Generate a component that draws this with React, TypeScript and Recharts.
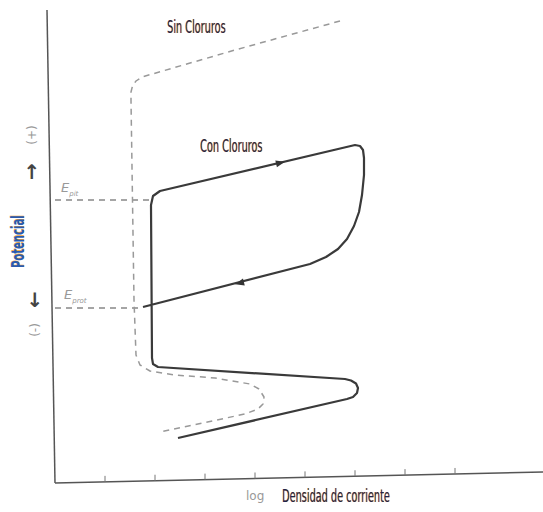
import { LineChart, Line, XAxis, YAxis, ReferenceLine, ReferenceDot } from 'recharts';

// curve "Con Cloruros" (solid), x = log current density, y = potential
const conX = [2.46, 5.84, 5.96, 6.04, 6.06, 6.02, 5.92, 5.8, 2.06, 1.96, 1.94, 1.92, 1.96, 2.1, 6.0, 6.1, 6.16, 6.18, 6.18, 6.14, 6.08, 5.98, 5.84, 5.66, 5.42, 5.1, 1.76];
const conY = [0.9, 1.68, 1.72, 1.8, 1.9, 1.99, 2.05, 2.08, 2.32, 2.38, 2.5, 5.56, 5.74, 5.84, 6.76, 6.74, 6.66, 6.5, 6.16, 5.76, 5.42, 5.14, 4.88, 4.68, 4.52, 4.38, 3.52];

// curve "Sin Cloruros" (dashed)
const sinX = [5.7, 3.6, 1.74, 1.62, 1.55, 1.52, 1.52, 1.58, 1.62, 1.7, 1.9, 2.4, 3.2, 3.9, 4.08, 4.18, 4.16, 4.06, 3.8, 2.1];
const sinY = [9.24, 8.66, 8.12, 8.04, 7.94, 7.82, 7.66, 3.66, 2.56, 2.36, 2.24, 2.16, 2.1, 1.98, 1.88, 1.72, 1.58, 1.48, 1.38, 1.02];

// E_pit and E_prot levels
const ePit = 5.66;
const eProt = 3.5;

const ticks = [1, 2, 3, 4, 5, 6, 7, 8];

// scanned axes are a bit skewed
const xAxisEnd = { x: 9.76, y: 0.22 };
const yAxisTop = { x: -0.16, y: 9.46 };

const con = conX.map((x, i) => ({ x, y: conY[i] }));
const sin = sinX.map((x, i) => ({ x, y: sinY[i] }));

const arrow = (angle: number) => (props: any) => (
  <polygon
    points="5,0 -4,-3.5 -4,3.5"
    fill="#333"
    transform={`translate(${props.cx},${props.cy}) rotate(${angle})`}
  />
);

const label: React.CSSProperties = {
  position: 'absolute',
  fontFamily: '"DejaVu Sans Condensed", sans-serif',
  fontSize: 18,
  color: '#1b2450',
  textShadow: '1px 0 0 #f0a030',
  whiteSpace: 'nowrap',
  lineHeight: 1,
  transform: 'scaleX(0.6)',
  transformOrigin: 'left top',
};

const small: React.CSSProperties = {
  position: 'absolute',
  fontFamily: '"DejaVu Sans", sans-serif',
  color: '#999',
  whiteSpace: 'nowrap',
  lineHeight: 1,
};

export default function App() {
  return (
    <div style={{ position: 'absolute', left: 0, top: 0, width: 543, height: 512, background: '#fff' }}>
      <LineChart width={543} height={512} margin={{ top: 0, right: 0, bottom: 0, left: 0 }}>
        <XAxis dataKey="x" type="number" domain={[-1.1, 9.76]} hide />
        <YAxis dataKey="y" type="number" domain={[-0.58, 9.66]} hide />

        {/* axes */}
        <ReferenceLine segment={[{ x: 0, y: 0 }, yAxisTop]} stroke="#555" strokeWidth={1.5} />
        <ReferenceLine segment={[{ x: 0, y: 0 }, xAxisEnd]} stroke="#555" strokeWidth={1.5} />
        {ticks.map((t) => {
          const base = (xAxisEnd.y * t) / xAxisEnd.x;
          return (
            <ReferenceLine
              key={t}
              segment={[{ x: t, y: base }, { x: t, y: base + 0.12 }]}
              stroke="#777"
              strokeWidth={1}
            />
          );
        })}

        <ReferenceLine segment={[{ x: 0, y: ePit }, { x: 1.9, y: ePit }]} stroke="#888" strokeDasharray="6 5" strokeWidth={1.3} />
        <ReferenceLine segment={[{ x: 0, y: eProt }, { x: 1.76, y: eProt }]} stroke="#888" strokeDasharray="6 5" strokeWidth={1.3} />

        <Line data={sin} dataKey="y" type="linear" stroke="#999" strokeWidth={1.5} strokeDasharray="6 5" strokeLinejoin="round" dot={false} activeDot={false} isAnimationActive={false} />
        <Line data={con} dataKey="y" type="linear" stroke="#3a3a3a" strokeWidth={2.2} strokeLinejoin="round" dot={false} activeDot={false} isAnimationActive={false} />

        <ReferenceDot x={4.5} y={6.4} r={4} shape={arrow(-13.3)} />
        <ReferenceDot x={3.7} y={4.0} r={4} shape={arrow(165.6)} />
      </LineChart>

      <div style={{ ...label, left: 167, top: 18 }}>Sin Cloruros</div>
      <div style={{ ...label, left: 200, top: 137 }}>Con Cloruros</div>
      <div style={{ ...label, left: 282, top: 487 }}>Densidad de corriente</div>
      <div style={{ ...small, left: 246, top: 490, fontSize: 12 }}>log</div>
      <div
        style={{
          ...label,
          color: '#2a5bb0',
          fontWeight: 'bold',
          left: 9,
          top: 268,
          transform: 'rotate(-90deg) scaleX(0.62)',
          transformOrigin: 'left top',
        }}
      >
        Potencial
      </div>

      <div style={{ ...small, left: 61, top: 181, fontSize: 13, fontStyle: 'italic' }}>
        E<sub style={{ fontSize: 7 }}>pit</sub>
      </div>
      <div style={{ ...small, left: 64, top: 288, fontSize: 13, fontStyle: 'italic' }}>
        E<sub style={{ fontSize: 7 }}>prot</sub>
      </div>

      <div style={{ ...small, left: 32, top: 135, fontSize: 12, transform: 'translate(-50%, -50%) rotate(-90deg)' }}>(+)</div>
      <div style={{ ...small, left: 32, top: 172, fontSize: 20, color: '#444', fontWeight: 'bold', transform: 'translate(-50%, -50%)' }}>↑</div>
      <div style={{ ...small, left: 35, top: 300, fontSize: 20, color: '#444', fontWeight: 'bold', transform: 'translate(-50%, -50%)' }}>↓</div>
      <div style={{ ...small, left: 35, top: 330, fontSize: 12, transform: 'translate(-50%, -50%) rotate(-90deg)' }}>(-)</div>
    </div>
  );
}
